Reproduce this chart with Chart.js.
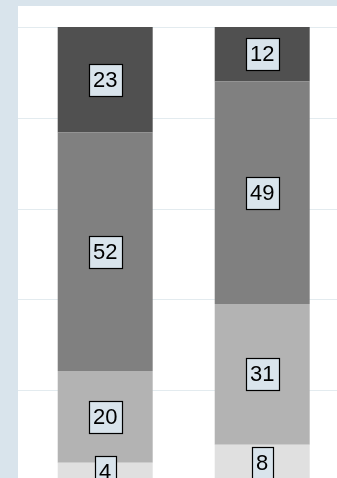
<!DOCTYPE html>
<html>
<head>
<meta charset="utf-8">
<script src="https://cdn.jsdelivr.net/npm/chart.js@4.4.1/dist/chart.umd.min.js"></script>
<style>
  html, body { margin: 0; padding: 0; background: #d9e4ec; }
  #wrap { position: relative; width: 337px; height: 478px; overflow: hidden; }
  #c { position: absolute; left: 0; top: 0; }
</style>
</head>
<body>
<div id="wrap"><canvas id="c" width="345" height="500" style="width:345px;height:500px"></canvas></div>
<script>
// ---- data ----
const categories = ['Column 1', 'Column 2'];
const segBottom = [4, 8];
const segLower = [20, 31];
const segUpper = [52, 49];
const segTop = [23, 12];
const yTicks = [0, 20, 40, 60, 80, 100];

const rawSeries = [segBottom, segLower, segUpper, segTop];
const colors = ['#e0e0e0', '#b3b3b3', '#808080', '#505050'];
const totals = categories.map((_, i) => rawSeries.reduce((s, arr) => s + arr[i], 0));

const datasets = rawSeries.map((arr, k) => ({
  label: 'S' + (k + 1),
  data: arr.map((v, i) => v / totals[i] * 100),
  raw: arr,
  backgroundColor: colors[k],
  borderWidth: 0,
  categoryPercentage: 1,
  barPercentage: 0.605
}));

const bgPlugin = {
  id: 'bg',
  beforeDraw(chart) {
    const ctx = chart.ctx;
    ctx.save();
    ctx.fillStyle = '#d9e4ec';
    ctx.fillRect(0, 0, chart.width, chart.height);
    ctx.fillStyle = '#ffffff';
    ctx.fillRect(18, 6, chart.width - 18, chart.height - 6);
    const y = chart.scales.y;
    ctx.strokeStyle = '#e3ebef';
    ctx.lineWidth = 1;
    yTicks.forEach(t => {
      const py = Math.round(y.getPixelForValue(t)) + 0.5;
      ctx.beginPath();
      ctx.moveTo(18, py);
      ctx.lineTo(chart.width, py);
      ctx.stroke();
    });
    ctx.restore();
  }
};

const labelPlugin = {
  id: 'boxLabels',
  afterDatasetsDraw(chart) {
    const ctx = chart.ctx;
    ctx.save();
    ctx.font = '22px "Liberation Sans", Arial, sans-serif';
    ctx.textAlign = 'center';
    ctx.textBaseline = 'middle';
    chart.data.datasets.forEach((ds, di) => {
      const meta = chart.getDatasetMeta(di);
      meta.data.forEach((bar, i) => {
        const p = bar.getProps(['x', 'y', 'base'], true);
        const cx = p.x;
        const cy = (p.y + p.base) / 2;
        const txt = String(ds.raw[i]);
        const w = Math.round(ctx.measureText(txt).width + 9);
        const h = 32;
        const bx = Math.round(cx - w / 2) + 0.5;
        const by = Math.round(cy - h / 2) + 0.5;
        ctx.fillStyle = '#d9e4ec';
        ctx.fillRect(bx, by, w, h);
        ctx.strokeStyle = '#000000';
        ctx.lineWidth = 1.2;
        ctx.strokeRect(bx, by, w, h);
        ctx.fillStyle = '#000000';
        ctx.fillText(txt, cx, cy + 1);
      });
    });
    ctx.restore();
  }
};

new Chart(document.getElementById('c'), {
  type: 'bar',
  data: { labels: categories, datasets },
  options: {
    responsive: false,
    animation: false,
    devicePixelRatio: 1,
    layout: { padding: { left: 26.7, right: 4.3, top: 27, bottom: 19 } },
    plugins: { legend: { display: false }, tooltip: { enabled: false }, title: { display: false } },
    scales: {
      x: { stacked: true, display: false },
      y: { stacked: true, display: false, min: 0, max: 100, ticks: { stepSize: 20 } }
    }
  },
  plugins: [bgPlugin, labelPlugin]
});
</script>
</body>
</html>
